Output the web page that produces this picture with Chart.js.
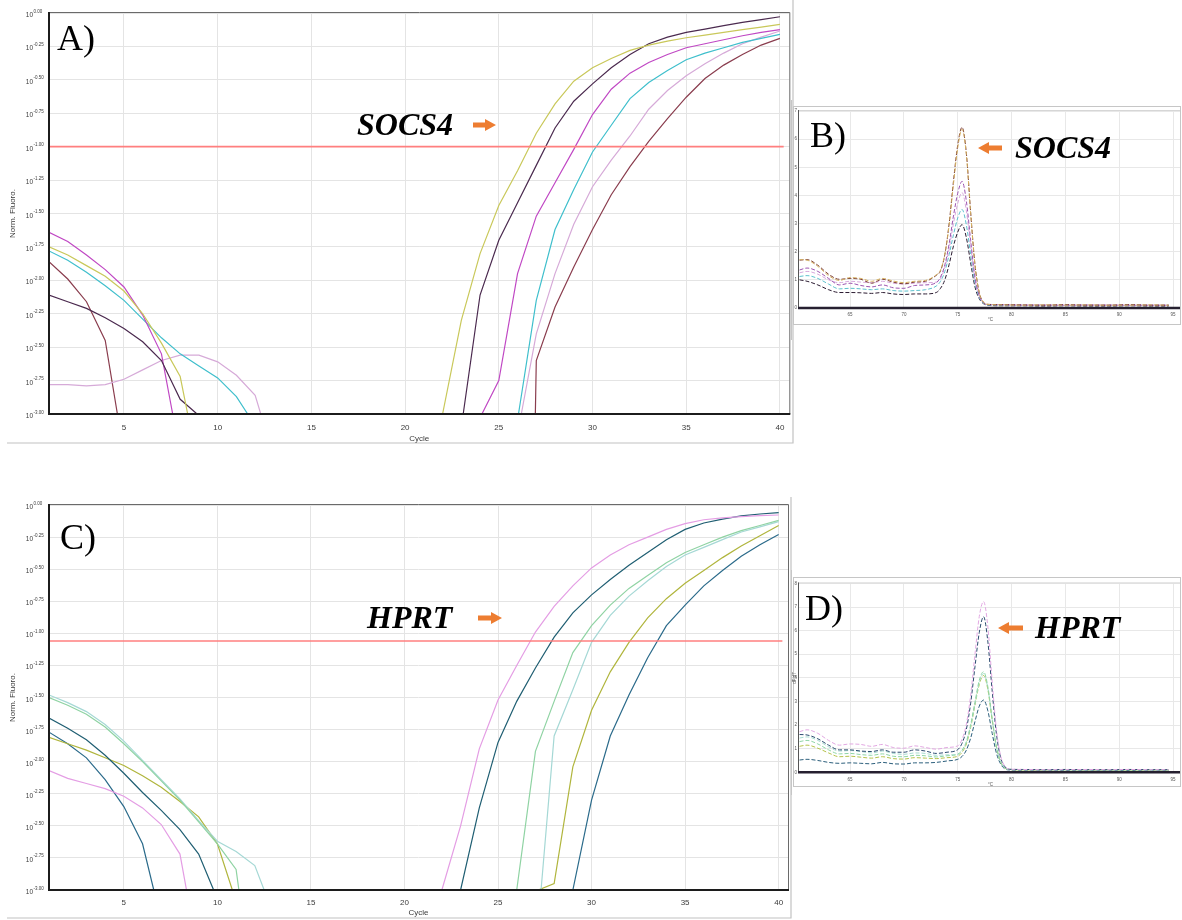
<!DOCTYPE html>
<html>
<head>
<meta charset="utf-8">
<title>SOCS4 / HPRT qPCR</title>
<script src="https://cdn.jsdelivr.net/npm/chart.js@4.4.1/dist/chart.umd.min.js"></script>
<style>
  html, body { margin: 0; padding: 0; background: #fff; }
  body { width: 1182px; height: 920px; position: relative; overflow: hidden; }
  canvas { position: absolute; }
</style>
</head>
<body>
<canvas id="ampA" width="800" height="450" style="left:0px;top:0px"></canvas>
<canvas id="ampC" width="800" height="425" style="left:0px;top:495px"></canvas>
<canvas id="meltB" width="392" height="240" style="left:790px;top:100px"></canvas>
<canvas id="meltD" width="392" height="225" style="left:790px;top:570px"></canvas>
<script>
// ---- amplification: cycle vs log10(normalised fluorescence) ----
const cycleTicks = [5, 10, 15, 20, 25, 30, 35, 40];
const logTicks = [0, -0.25, -0.5, -0.75, -1, -1.25, -1.5, -1.75, -2, -2.25, -2.5, -2.75, -3];

// SOCS4 runs, [cycle, log10 fluoro]; early = baseline drift, late = exponential phase
const socsYellowEarly = [[1,-1.75],[2,-1.81],[3,-1.89],[4,-1.97],[5,-2.08],[6,-2.25],[7,-2.47],[8,-2.72],[8.4,-3]];
const socsYellowLate = [[22,-3],[23,-2.30],[24,-1.80],[25,-1.44],[26,-1.18],[27,-0.90],[28,-0.68],[29,-0.51],[30,-0.41],[31,-0.34],[32,-0.28],[33,-0.24],[34,-0.21],[35,-0.185],[36,-0.165],[37,-0.145],[38,-0.125],[39,-0.105],[40,-0.085]];
const socsPlumEarly = [[1,-2.11],[2,-2.16],[3,-2.21],[4,-2.28],[5,-2.36],[6,-2.46],[7,-2.60],[8,-2.89],[8.9,-3]];
const socsPlumLate = [[23.1,-3],[24,-2.11],[25,-1.70],[26,-1.42],[27,-1.14],[28,-0.86],[29,-0.66],[30,-0.53],[31,-0.41],[32,-0.31],[33,-0.23],[34,-0.18],[35,-0.145],[36,-0.12],[37,-0.095],[38,-0.07],[39,-0.05],[40,-0.028]];
const socsMagentaEarly = [[1,-1.64],[2,-1.71],[3,-1.81],[4,-1.92],[5,-2.05],[6,-2.26],[7,-2.55],[7.6,-3]];
const socsMagentaLate = [[24.1,-3],[25,-2.75],[26,-1.95],[27,-1.52],[28,-1.27],[29,-1.02],[30,-0.76],[31,-0.57],[32,-0.45],[33,-0.37],[34,-0.31],[35,-0.26],[36,-0.23],[37,-0.2],[38,-0.17],[39,-0.145],[40,-0.125]];
const socsCyanEarly = [[1,-1.78],[2,-1.85],[3,-1.94],[4,-2.04],[5,-2.15],[6,-2.29],[7,-2.43],[8,-2.55],[9,-2.64],[10,-2.73],[11,-2.87],[11.6,-3]];
const socsCyanLate = [[26.05,-3],[27,-2.15],[28,-1.62],[29,-1.32],[30,-1.04],[31,-0.84],[32,-0.64],[33,-0.52],[34,-0.43],[35,-0.35],[36,-0.30],[37,-0.26],[38,-0.22],[39,-0.19],[40,-0.16]];
const socsLilacEarly = [[1,-2.78],[2,-2.78],[3,-2.79],[4,-2.78],[5,-2.74],[6,-2.67],[7,-2.6],[8,-2.56],[9,-2.56],[10,-2.61],[11,-2.71],[12,-2.86],[12.3,-3]];
const socsLilacLate = [[26.2,-3],[27,-2.40],[28,-1.95],[29,-1.58],[30,-1.30],[31,-1.10],[32,-0.92],[33,-0.72],[34,-0.58],[35,-0.47],[36,-0.38],[37,-0.30],[38,-0.23],[39,-0.18],[40,-0.135]];
const socsBrownEarly = [[1,-1.86],[2,-1.99],[3,-2.16],[4,-2.45],[4.65,-3]];
const socsBrownLate = [[26.95,-3],[27,-2.60],[28,-2.20],[29,-1.90],[30,-1.62],[31,-1.36],[32,-1.15],[33,-0.96],[34,-0.79],[35,-0.63],[36,-0.49],[37,-0.39],[38,-0.31],[39,-0.24],[40,-0.19]];
const socsThreshold = -1.0;

// HPRT runs
const hprtPinkEarly = [[1,-2.07],[2,-2.13],[3,-2.17],[4,-2.21],[5,-2.27],[6,-2.36],[7,-2.49],[8,-2.72],[8.35,-3]];
const hprtPinkLate = [[22,-3],[23,-2.50],[24,-1.90],[25,-1.52],[26,-1.25],[27,-0.99],[28,-0.79],[29,-0.63],[30,-0.49],[31,-0.39],[32,-0.31],[33,-0.25],[34,-0.19],[35,-0.145],[36,-0.115],[37,-0.10],[38,-0.09],[39,-0.083],[40,-0.078]];
const hprtTealEarly = [[1,-1.66],[2,-1.74],[3,-1.83],[4,-1.95],[5,-2.09],[6,-2.24],[7,-2.38],[8,-2.53],[9,-2.72],[9.8,-3]];
const hprtTealLate = [[23,-3],[24,-2.36],[25,-1.85],[26,-1.53],[27,-1.27],[28,-1.03],[29,-0.84],[30,-0.70],[31,-0.58],[32,-0.47],[33,-0.37],[34,-0.27],[35,-0.19],[36,-0.14],[37,-0.11],[38,-0.085],[39,-0.07],[40,-0.06]];
const hprtMintEarly = [[1,-1.50],[2,-1.56],[3,-1.63],[4,-1.73],[5,-1.86],[6,-2.00],[7,-2.15],[8,-2.30],[9,-2.47],[10,-2.64],[11,-2.84],[11.15,-3]];
const hprtMintLate = [[26,-3],[27,-1.92],[28,-1.53],[29,-1.15],[30,-0.94],[31,-0.78],[32,-0.65],[33,-0.55],[34,-0.45],[35,-0.37],[36,-0.31],[37,-0.25],[38,-0.20],[39,-0.16],[40,-0.12]];
const hprtAquaEarly = [[1,-1.48],[2,-1.54],[3,-1.61],[4,-1.71],[5,-1.84],[6,-1.99],[7,-2.14],[8,-2.29],[9,-2.46],[10,-2.62],[11,-2.70],[12,-2.81],[12.5,-3]];
const hprtAquaLate = [[27.3,-3],[28,-1.80],[29,-1.44],[30,-1.07],[31,-0.86],[32,-0.71],[33,-0.59],[34,-0.48],[35,-0.39],[36,-0.33],[37,-0.27],[38,-0.21],[39,-0.17],[40,-0.13]];
const hprtOliveEarly = [[1,-1.81],[2,-1.86],[3,-1.91],[4,-1.97],[5,-2.03],[6,-2.11],[7,-2.20],[8,-2.31],[9,-2.43],[10,-2.64],[10.8,-3]];
const hprtOliveLate = [[27.15,-3],[28,-2.95],[29,-2.04],[30,-1.60],[31,-1.30],[32,-1.07],[33,-0.88],[34,-0.73],[35,-0.61],[36,-0.51],[37,-0.41],[38,-0.32],[39,-0.24],[40,-0.16]];
const hprtBlueEarly = [[1,-1.77],[2,-1.86],[3,-1.97],[4,-2.14],[5,-2.35],[6,-2.64],[6.6,-3]];
const hprtBlueLate = [[29,-3],[30,-2.30],[31,-1.80],[32,-1.48],[33,-1.19],[34,-0.94],[35,-0.78],[36,-0.63],[37,-0.51],[38,-0.40],[39,-0.31],[40,-0.23]];
const hprtThreshold = -1.06;

// ---- melt curves: dF/dT vs temperature ----
const meltTicks = [65, 70, 75, 80, 85, 90, 95];
const socsMeltTemps = [60.3,61,62,63,64,65,66,67,68,69,70,71,72,73,73.4,73.8,74.2,74.6,75,75.4,75.8,76.2,76.6,77,77.4,77.8,79,81,83,85,87,89,91,93,94.6];
const socsMeltBrown = [1.70,1.72,1.52,1.20,1.02,1.05,1.02,0.88,1.02,0.92,0.86,0.92,0.95,1.16,1.32,1.90,3.00,4.50,5.80,6.42,5.50,3.40,1.55,0.55,0.20,0.13,0.12,0.11,0.10,0.12,0.10,0.10,0.12,0.10,0.10];
const socsMeltYellow = [1.72,1.70,1.48,1.15,0.98,1.08,1.05,0.95,1.05,0.96,0.90,0.95,0.98,1.18,1.35,1.92,2.95,4.40,5.70,6.35,5.45,3.35,1.52,0.54,0.20,0.13,0.11,0.10,0.11,0.10,0.11,0.10,0.10,0.11,0.10];
const socsMeltPurple = [1.35,1.42,1.30,1.05,0.82,0.88,0.80,0.75,0.82,0.72,0.70,0.80,0.82,0.90,1.10,1.53,2.28,3.27,4.08,4.50,3.80,2.40,1.10,0.44,0.18,0.12,0.11,0.10,0.10,0.10,0.11,0.10,0.10,0.10,0.10];
const socsMeltLilac = [1.25,1.30,1.20,1.00,0.90,0.95,0.92,0.90,0.95,0.88,0.85,0.88,0.90,0.92,1.05,1.45,2.10,3.00,3.72,4.10,3.45,2.20,1.00,0.42,0.18,0.12,0.12,0.11,0.11,0.10,0.10,0.11,0.10,0.10,0.10];
const socsMeltCyan = [1.12,1.15,1.05,0.85,0.68,0.70,0.68,0.65,0.68,0.62,0.60,0.62,0.65,0.78,0.95,1.30,1.90,2.60,3.20,3.50,2.95,1.90,0.90,0.38,0.16,0.11,0.10,0.09,0.09,0.09,0.09,0.09,0.09,0.09,0.09];
const socsMeltDark = [1.00,0.95,0.82,0.65,0.55,0.55,0.54,0.52,0.55,0.50,0.48,0.50,0.50,0.55,0.70,1.00,1.55,2.20,2.70,2.96,2.50,1.60,0.75,0.33,0.15,0.10,0.08,0.08,0.07,0.08,0.07,0.07,0.08,0.07,0.07];

const hprtMeltTemps = [60.3,61,62,63,64,65,66,67,68,69,70,71,72,73,74,75,75.4,75.8,76.2,76.6,77,77.4,77.8,78.2,78.6,79,79.4,79.8,81,83,85,87,89,91,93,94.6];
const hprtMeltPink = [1.72,1.80,1.65,1.35,1.15,1.20,1.18,1.10,1.18,1.05,1.02,1.12,1.05,0.98,1.05,1.12,1.40,2.04,3.27,5.00,6.60,7.23,6.15,3.83,1.79,0.67,0.25,0.14,0.12,0.11,0.11,0.12,0.11,0.12,0.11,0.11];
const hprtMeltNavy = [1.60,1.58,1.42,1.15,0.95,0.95,0.90,0.88,0.95,0.85,0.85,0.95,0.90,0.80,0.85,0.96,1.23,1.82,2.93,4.47,5.92,6.59,5.52,3.44,1.60,0.60,0.23,0.13,0.12,0.11,0.12,0.11,0.11,0.12,0.11,0.11];
const hprtMeltMint = [1.30,1.35,1.20,0.95,0.78,0.80,0.75,0.72,0.78,0.68,0.66,0.72,0.70,0.65,0.70,0.77,0.94,1.30,2.02,2.97,3.90,4.26,3.62,2.28,1.09,0.43,0.18,0.12,0.11,0.11,0.10,0.11,0.10,0.10,0.11,0.10];
const hprtMeltAqua = [1.45,1.50,1.35,1.08,0.90,0.92,0.88,0.82,0.90,0.80,0.76,0.82,0.80,0.72,0.74,0.75,0.92,1.27,1.97,2.90,3.80,4.18,3.55,2.23,1.06,0.42,0.18,0.12,0.11,0.10,0.11,0.10,0.10,0.11,0.10,0.10];
const hprtMeltOlive = [1.10,1.15,1.02,0.82,0.66,0.68,0.64,0.60,0.66,0.58,0.56,0.62,0.60,0.58,0.62,0.68,0.85,1.20,1.90,2.85,3.72,4.10,3.50,2.20,1.05,0.42,0.17,0.12,0.10,0.10,0.11,0.10,0.10,0.10,0.10,0.10];
const hprtMeltBlue = [0.52,0.55,0.50,0.42,0.38,0.40,0.38,0.36,0.42,0.36,0.35,0.40,0.40,0.42,0.48,0.55,0.67,0.94,1.45,2.15,2.80,3.06,2.60,1.65,0.80,0.34,0.14,0.10,0.09,0.09,0.08,0.09,0.08,0.08,0.09,0.08];

const SANS = '"Liberation Sans", Arial, sans-serif';
const SERIF = '"Liberation Serif", "Times New Roman", serif';
Chart.defaults.font.family = SANS;

function runDataset(run) {
  const pts = run.early.concat([[16, null]], run.late);
  return {
    data: pts.map(([c, v]) => ({ x: c, y: v })),
    borderColor: run.color,
    borderWidth: 1.2,
    pointRadius: 0,
    tension: 0,
    spanGaps: false
  };
}

function drawArrow(ctx, tipX, tailX, y) {
  const dir = tailX > tipX ? 1 : -1;
  const head = 11, half = 6, shaft = 2.5;
  ctx.fillStyle = '#ed7d31';
  ctx.beginPath();
  ctx.moveTo(tipX, y);
  ctx.lineTo(tipX + dir * head, y - half);
  ctx.lineTo(tipX + dir * head, y - shaft);
  ctx.lineTo(tailX, y - shaft);
  ctx.lineTo(tailX, y + shaft);
  ctx.lineTo(tipX + dir * head, y + shaft);
  ctx.lineTo(tipX + dir * head, y + half);
  ctx.closePath();
  ctx.fill();
}

function drawTags(ctx, d) {
  ctx.fillStyle = '#000';
  ctx.textAlign = 'left';
  ctx.textBaseline = 'alphabetic';
  ctx.font = '36px ' + SERIF;
  ctx.fillText(d.letter, d.letterX, d.letterY);
  ctx.font = 'italic bold 32px ' + SERIF;
  ctx.fillText(d.gene, d.geneX, d.geneY);
  drawArrow(ctx, d.arrowTip, d.arrowTail, d.arrowY);
}

function ampDecor(d) {
  return {
    id: 'ampDecor',
    afterDraw(chart) {
      const { ctx, chartArea: a, scales: { x, y } } = chart;
      ctx.save();
      // panel border (right and bottom edges)
      ctx.strokeStyle = '#c2c2c2';
      ctx.lineWidth = 1.2;
      ctx.beginPath();
      ctx.moveTo(d.boxRight, d.boxTop);
      ctx.lineTo(d.boxRight, d.boxBottom);
      ctx.lineTo(d.boxLeft, d.boxBottom);
      ctx.stroke();

      // plot frame
      ctx.strokeStyle = '#6a6a6a';
      ctx.lineWidth = 1;
      ctx.beginPath();
      ctx.moveTo(a.left, a.top - 0.5);
      ctx.lineTo(a.right + 0.5, a.top - 0.5);
      ctx.lineTo(a.right + 0.5, a.bottom);
      ctx.stroke();
      ctx.strokeStyle = '#1c1c1c';
      ctx.lineWidth = 2;
      ctx.beginPath();
      ctx.moveTo(a.left, a.top - 1);
      ctx.lineTo(a.left, a.bottom);
      ctx.lineTo(a.right + 1, a.bottom);
      ctx.stroke();

      ctx.fillStyle = '#3a3a3a';
      // y ticks as powers of ten
      logTicks.forEach(v => {
        const py = y.getPixelForValue(v);
        ctx.textBaseline = 'alphabetic';
        ctx.font = '6.5px ' + SANS;
        ctx.textAlign = 'right';
        ctx.fillText('10', 33, py + 4);
        ctx.font = '4.5px ' + SANS;
        ctx.textAlign = 'left';
        ctx.fillText(v === 0 ? '0.00' : v.toFixed(2), 33.5, py - 0.5);
      });
      // x ticks
      ctx.font = '8px ' + SANS;
      ctx.textAlign = 'center';
      cycleTicks.forEach(v => {
        ctx.fillText(String(v), x.getPixelForValue(v), a.bottom + d.tickGap);
      });
      ctx.fillText('Cycle', (a.left + a.right) / 2, a.bottom + d.titleGap);
      // y title
      ctx.save();
      ctx.translate(12.7, (a.top + a.bottom) / 2);
      ctx.rotate(-Math.PI / 2);
      ctx.textBaseline = 'middle';
      ctx.fillText('Norm. Fluoro.', 0, 0);
      ctx.restore();

      drawTags(ctx, d);
      ctx.restore();
    }
  };
}

function ampChart(id, runs, threshold, d) {
  const datasets = runs.map(runDataset);
  datasets.push({
    data: [{ x: 1, y: threshold }, { x: 40.2, y: threshold }],
    borderColor: '#ff7f7f', borderWidth: 1.6, pointRadius: 0, order: -1
  });
  return new Chart(document.getElementById(id), {
    type: 'line',
    data: { datasets },
    options: {
      responsive: false, animation: false, devicePixelRatio: 1,
      layout: { padding: d.padding },
      plugins: { legend: { display: false }, tooltip: { enabled: false } },
      scales: {
        x: {
          type: 'linear', min: 1, max: 40.5,
          afterBuildTicks: s => { s.ticks = cycleTicks.map(v => ({ value: v })); },
          ticks: { display: false },
          grid: { color: '#e4e4e4', drawTicks: false },
          border: { display: false }
        },
        y: {
          type: 'linear', min: -3, max: 0,
          afterBuildTicks: s => { s.ticks = logTicks.map(v => ({ value: v })); },
          ticks: { display: false },
          grid: { color: '#e4e4e4', drawTicks: false },
          border: { display: false }
        }
      }
    },
    plugins: [ampDecor(d)]
  });
}

function meltDecor(d) {
  return {
    id: 'meltDecor',
    afterDraw(chart) {
      const { ctx, chartArea: a, scales: { x, y } } = chart;
      ctx.save();
      // outer panel box with double left rule
      ctx.strokeStyle = '#c6c6c6';
      ctx.lineWidth = 1;
      ctx.strokeRect(3.5, d.boxTop + 0.5, 387, d.boxBottom - d.boxTop);
      ctx.beginPath();
      ctx.moveTo(1.5, 0);
      ctx.lineTo(1.5, chart.height);
      ctx.stroke();

      // axes
      ctx.strokeStyle = '#d6d6d6';
      ctx.beginPath();
      ctx.moveTo(a.left, a.top - 0.5);
      ctx.lineTo(a.right, a.top - 0.5);
      ctx.stroke();
      ctx.strokeStyle = '#555';
      ctx.beginPath();
      ctx.moveTo(a.left - 0.5, a.top - 1);
      ctx.lineTo(a.left - 0.5, a.bottom);
      ctx.stroke();
      ctx.strokeStyle = '#262030';
      ctx.lineWidth = 2.4;
      ctx.beginPath();
      ctx.moveTo(a.left - 1, a.bottom);
      ctx.lineTo(a.right, a.bottom);
      ctx.stroke();

      ctx.fillStyle = '#555';
      ctx.font = '4.5px ' + SANS;
      ctx.textBaseline = 'middle';
      ctx.textAlign = 'right';
      for (let v = 0; v <= d.yMax; v++) {
        ctx.fillText(String(v), a.left - 2, y.getPixelForValue(v));
      }
      ctx.textAlign = 'center';
      meltTicks.forEach(t => {
        ctx.fillText(String(t), x.getPixelForValue(t), a.bottom + 7);
      });
      ctx.fillText('\u00b0C', (a.left + a.right) / 2 + 1, a.bottom + 12);
      if (d.yTitle) {
        ctx.save();
        ctx.translate(a.left - 4, (a.top + a.bottom) / 2);
        ctx.rotate(-Math.PI / 2);
        ctx.fillText(d.yTitle, 0, 0);
        ctx.restore();
      }

      drawTags(ctx, d);
      ctx.restore();
    }
  };
}

function meltChart(id, temps, curves, d) {
  const datasets = curves.map(c => ({
    data: temps.map((t, i) => ({ x: t, y: c.values[i] })),
    borderColor: c.color,
    borderWidth: 1,
    borderDash: [4, 2],
    pointRadius: 0,
    cubicInterpolationMode: 'monotone'
  }));
  return new Chart(document.getElementById(id), {
    type: 'line',
    data: { datasets },
    options: {
      responsive: false, animation: false, devicePixelRatio: 1,
      layout: { padding: d.padding },
      plugins: { legend: { display: false }, tooltip: { enabled: false } },
      scales: {
        x: {
          type: 'linear', min: 60.25, max: 95.65,
          afterBuildTicks: s => { s.ticks = meltTicks.map(v => ({ value: v })); },
          ticks: { display: false },
          grid: { color: '#e8e8e8', drawTicks: false },
          border: { display: false }
        },
        y: {
          type: 'linear', min: 0, max: d.yMax,
          ticks: { display: false, stepSize: 1 },
          grid: { color: '#e8e8e8', drawTicks: false },
          border: { display: false }
        }
      }
    },
    plugins: [meltDecor(d)]
  });
}

ampChart('ampA', [
  { color: '#c9c85a', early: socsYellowEarly, late: socsYellowLate },
  { color: '#4b2a4f', early: socsPlumEarly, late: socsPlumLate },
  { color: '#c048c4', early: socsMagentaEarly, late: socsMagentaLate },
  { color: '#3fbfcc', early: socsCyanEarly, late: socsCyanLate },
  { color: '#d6aad8', early: socsLilacEarly, late: socsLilacLate },
  { color: '#8a3d4e', early: socsBrownEarly, late: socsBrownLate }
], socsThreshold, {
  padding: { left: 49, right: 10.7, top: 13, bottom: 36 },
  boxLeft: 7, boxRight: 793, boxTop: 0, boxBottom: 443,
  tickGap: 16, titleGap: 27,
  letter: 'A)', letterX: 57, letterY: 50,
  gene: 'SOCS4', geneX: 357, geneY: 135,
  arrowTip: 496, arrowTail: 473, arrowY: 125
});

ampChart('ampC', [
  { color: '#e49de4', early: hprtPinkEarly, late: hprtPinkLate },
  { color: '#1f5e72', early: hprtTealEarly, late: hprtTealLate },
  { color: '#8fd3a3', early: hprtMintEarly, late: hprtMintLate },
  { color: '#a5d8d5', early: hprtAquaEarly, late: hprtAquaLate },
  { color: '#b0b53c', early: hprtOliveEarly, late: hprtOliveLate },
  { color: '#2a6a8a', early: hprtBlueEarly, late: hprtBlueLate }
], hprtThreshold, {
  padding: { left: 49, right: 12, top: 10, bottom: 30 },
  boxLeft: 7, boxRight: 791, boxTop: 2, boxBottom: 423,
  tickGap: 15, titleGap: 25,
  letter: 'C)', letterX: 60, letterY: 54,
  gene: 'HPRT', geneX: 367, geneY: 133,
  arrowTip: 502, arrowTail: 478, arrowY: 123
});

meltChart('meltB', socsMeltTemps, [
  { color: '#d4b060', values: socsMeltYellow },
  { color: '#7a3b35', values: socsMeltBrown },
  { color: '#9c54b0', values: socsMeltPurple },
  { color: '#d8a8dc', values: socsMeltLilac },
  { color: '#5cc0cc', values: socsMeltCyan },
  { color: '#2a1a30', values: socsMeltDark }
], {
  padding: { left: 9, right: 2, top: 11, bottom: 32 },
  yMax: 7, boxTop: 6, boxBottom: 224, yTitle: '',
  letter: 'B)', letterX: 20, letterY: 47,
  gene: 'SOCS4', geneX: 225, geneY: 58,
  arrowTip: 188, arrowTail: 212, arrowY: 48
});

meltChart('meltD', hprtMeltTemps, [
  { color: '#e2a8e2', values: hprtMeltPink },
  { color: '#2b4a6f', values: hprtMeltNavy },
  { color: '#8fd6a6', values: hprtMeltMint },
  { color: '#a8dcd0', values: hprtMeltAqua },
  { color: '#b5c24a', values: hprtMeltOlive },
  { color: '#2c5f7c', values: hprtMeltBlue }
], {
  padding: { left: 9, right: 2, top: 13.4, bottom: 22.7 },
  yMax: 8, boxTop: 7, boxBottom: 216, yTitle: 'dF/dT',
  letter: 'D)', letterX: 15, letterY: 50,
  gene: 'HPRT', geneX: 245, geneY: 68,
  arrowTip: 208, arrowTail: 233, arrowY: 58
});
</script>
</body>
</html>
